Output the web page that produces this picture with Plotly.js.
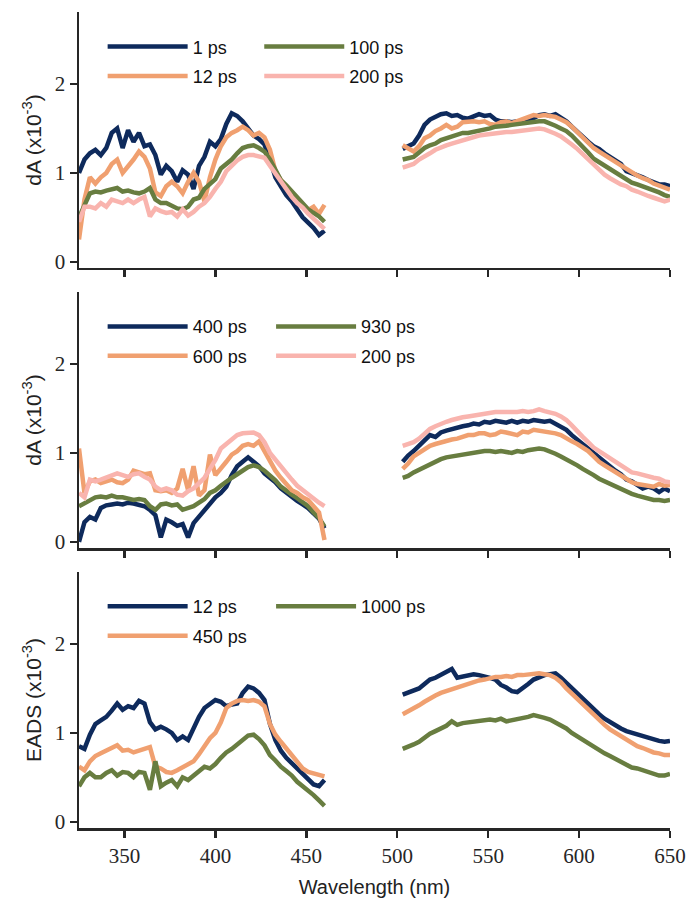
<!DOCTYPE html>
<html>
<head>
<meta charset="utf-8">
<script src="https://cdn.plot.ly/plotly-3.0.1.min.js"></script>
<style>html,body{margin:0;padding:0;background:#fff;}#chart{width:691px;height:908px;}</style>
</head>
<body>
<div id="chart"></div>
<script>
// Wavelength grids (nm)
const wlLeft = [325,328,331,334,337,340,343,346,349,352,355,358,361,364,367,370,373,376,379,382,385,388,391,394,397,400,403,406,409,412,415,418,421,424,427,430,433,436,439,442,445,448,451,454,457,460];
const wlRight = [503,506,509,512,515,518,521,524,527,530,533,536,539,542,545,548,551,554,557,560,563,566,569,572,575,578,581,584,587,590,593,596,599,602,605,608,611,614,617,620,623,626,629,632,635,638,641,644,647,650];

// Panel 1 (dA x10^-3)
const p1_1ps_L = [1.0,1.15,1.22,1.26,1.2,1.28,1.45,1.5,1.28,1.48,1.35,1.45,1.3,1.32,1.2,0.98,1.08,1.02,0.9,1.03,0.98,0.82,1.08,1.18,1.35,1.3,1.38,1.55,1.67,1.64,1.58,1.5,1.42,1.38,1.32,1.15,0.95,0.85,0.75,0.68,0.58,0.5,0.44,0.38,0.3,0.35];
const p1_1ps_R = [1.27,1.3,1.33,1.42,1.54,1.6,1.63,1.66,1.67,1.64,1.65,1.62,1.61,1.64,1.66,1.64,1.65,1.6,1.58,1.58,1.57,1.58,1.57,1.58,1.62,1.65,1.66,1.64,1.66,1.62,1.58,1.52,1.46,1.4,1.35,1.3,1.27,1.22,1.18,1.14,1.1,1.02,1.0,0.98,0.95,0.92,0.9,0.87,0.87,0.85];
const p1_12ps_L = [0.25,0.7,0.95,0.88,0.95,1.0,1.1,1.15,1.0,1.07,1.15,1.24,1.18,1.05,0.78,0.74,0.85,0.9,0.85,0.77,0.9,1.0,0.9,0.68,0.95,1.15,1.3,1.4,1.45,1.48,1.52,1.48,1.42,1.45,1.4,1.26,1.02,0.92,0.84,0.76,0.7,0.64,0.58,0.62,0.54,0.64];
const p1_12ps_R = [1.31,1.27,1.24,1.3,1.39,1.42,1.47,1.5,1.54,1.5,1.52,1.57,1.58,1.58,1.57,1.58,1.55,1.54,1.57,1.58,1.56,1.58,1.61,1.62,1.65,1.64,1.65,1.64,1.63,1.6,1.57,1.52,1.46,1.4,1.34,1.28,1.24,1.2,1.16,1.12,1.08,1.04,1.0,0.97,0.94,0.92,0.88,0.86,0.83,0.81];
const p1_100ps_L = [0.5,0.65,0.77,0.79,0.78,0.8,0.82,0.83,0.79,0.8,0.78,0.77,0.79,0.83,0.7,0.66,0.66,0.63,0.6,0.59,0.62,0.7,0.72,0.82,0.88,0.93,1.05,1.1,1.15,1.22,1.28,1.3,1.31,1.28,1.24,1.15,1.03,0.92,0.86,0.79,0.73,0.66,0.59,0.55,0.51,0.45];
const p1_100ps_R = [1.15,1.17,1.18,1.23,1.28,1.31,1.33,1.37,1.39,1.42,1.43,1.45,1.45,1.46,1.47,1.48,1.5,1.52,1.52,1.53,1.54,1.55,1.56,1.57,1.58,1.58,1.58,1.56,1.53,1.5,1.47,1.42,1.36,1.3,1.23,1.16,1.12,1.09,1.05,1.01,0.97,0.93,0.89,0.87,0.85,0.83,0.81,0.78,0.75,0.73];
const p1_200ps_L = [0.45,0.62,0.62,0.6,0.66,0.62,0.7,0.68,0.66,0.7,0.66,0.7,0.73,0.51,0.6,0.57,0.55,0.56,0.51,0.59,0.52,0.56,0.62,0.66,0.73,0.82,0.9,1.02,1.08,1.14,1.18,1.2,1.2,1.19,1.17,1.08,0.99,0.9,0.82,0.73,0.66,0.61,0.54,0.48,0.42,0.37];
const p1_200ps_R = [1.06,1.08,1.1,1.15,1.18,1.22,1.26,1.29,1.31,1.33,1.35,1.37,1.39,1.41,1.42,1.43,1.44,1.45,1.45,1.46,1.46,1.47,1.48,1.48,1.5,1.5,1.49,1.47,1.44,1.41,1.37,1.32,1.27,1.21,1.15,1.09,1.03,0.98,0.94,0.9,0.87,0.85,0.81,0.79,0.76,0.74,0.72,0.7,0.68,0.7];

// Panel 2 (dA x10^-3)
const p2_400ps_L = [0.0,0.22,0.28,0.25,0.38,0.41,0.42,0.43,0.42,0.44,0.43,0.42,0.4,0.36,0.3,0.05,0.25,0.22,0.18,0.2,0.05,0.21,0.28,0.36,0.43,0.5,0.55,0.62,0.75,0.85,0.9,0.95,0.9,0.85,0.77,0.72,0.67,0.6,0.55,0.5,0.46,0.42,0.38,0.32,0.26,0.15];
const p2_400ps_R = [0.9,0.97,1.02,1.08,1.14,1.2,1.18,1.23,1.25,1.27,1.28,1.3,1.31,1.33,1.32,1.35,1.34,1.36,1.35,1.34,1.36,1.34,1.36,1.35,1.37,1.36,1.35,1.36,1.33,1.3,1.26,1.2,1.15,1.1,1.04,1.0,0.95,0.9,0.85,0.8,0.76,0.7,0.68,0.64,0.6,0.62,0.6,0.56,0.6,0.57];
const p2_600ps_L = [1.05,0.55,0.68,0.7,0.66,0.68,0.7,0.67,0.66,0.7,0.8,0.78,0.76,0.77,0.58,0.57,0.58,0.55,0.6,0.82,0.58,0.85,0.52,0.58,0.98,0.75,0.82,0.9,0.98,1.02,1.08,1.1,1.08,1.13,1.02,0.9,0.8,0.72,0.64,0.58,0.55,0.5,0.47,0.4,0.33,0.02];
const p2_600ps_R = [0.82,0.88,0.96,1.0,1.05,1.08,1.1,1.12,1.13,1.15,1.16,1.18,1.2,1.2,1.22,1.22,1.2,1.21,1.24,1.23,1.22,1.2,1.24,1.23,1.26,1.25,1.24,1.24,1.22,1.2,1.16,1.13,1.1,1.06,1.02,0.96,0.9,0.86,0.82,0.78,0.74,0.7,0.67,0.65,0.64,0.64,0.62,0.65,0.63,0.64];
const p2_930ps_L = [0.4,0.43,0.46,0.5,0.51,0.5,0.52,0.5,0.5,0.49,0.47,0.48,0.47,0.4,0.36,0.42,0.43,0.41,0.42,0.36,0.38,0.4,0.44,0.48,0.55,0.58,0.63,0.68,0.72,0.76,0.8,0.84,0.86,0.84,0.8,0.75,0.69,0.62,0.57,0.53,0.49,0.44,0.4,0.33,0.27,0.17];
const p2_930ps_R = [0.72,0.74,0.78,0.81,0.85,0.87,0.9,0.93,0.95,0.96,0.98,0.99,1.0,1.0,1.01,1.02,1.02,1.01,1.02,1.01,1.0,1.02,1.01,1.03,1.04,1.05,1.04,1.02,0.99,0.96,0.93,0.89,0.86,0.82,0.79,0.75,0.71,0.68,0.65,0.62,0.59,0.56,0.54,0.52,0.5,0.48,0.47,0.47,0.46,0.47];
const p2_200ps_L = [0.55,0.5,0.7,0.68,0.7,0.72,0.74,0.77,0.75,0.73,0.76,0.77,0.73,0.7,0.62,0.58,0.6,0.58,0.53,0.52,0.57,0.6,0.66,0.72,0.82,0.92,1.05,1.1,1.15,1.2,1.22,1.22,1.23,1.2,1.12,1.0,0.92,0.85,0.77,0.7,0.63,0.58,0.53,0.49,0.44,0.4];
const p2_200ps_R = [1.08,1.1,1.12,1.16,1.22,1.27,1.3,1.33,1.35,1.37,1.39,1.4,1.41,1.42,1.44,1.45,1.45,1.46,1.46,1.46,1.45,1.46,1.47,1.46,1.47,1.49,1.47,1.46,1.44,1.41,1.37,1.31,1.24,1.18,1.12,1.06,1.02,0.98,0.94,0.89,0.85,0.81,0.78,0.77,0.75,0.74,0.72,0.71,0.68,0.67];

// Panel 3 (EADS x10^-3)
const p3_12ps_L = [0.85,0.82,0.98,1.1,1.14,1.18,1.25,1.33,1.26,1.3,1.28,1.36,1.33,1.12,1.04,1.07,1.04,1.0,0.92,0.96,0.92,1.05,1.18,1.28,1.33,1.37,1.35,1.3,1.32,1.33,1.45,1.52,1.5,1.45,1.37,1.1,0.92,0.8,0.72,0.66,0.59,0.53,0.47,0.42,0.4,0.47];
const p3_12ps_R = [1.43,1.45,1.47,1.5,1.55,1.6,1.62,1.65,1.68,1.72,1.62,1.63,1.64,1.66,1.65,1.64,1.62,1.6,1.54,1.51,1.47,1.46,1.5,1.55,1.6,1.63,1.65,1.66,1.67,1.62,1.56,1.5,1.44,1.38,1.32,1.26,1.21,1.16,1.12,1.08,1.05,1.02,1.0,0.98,0.96,0.95,0.93,0.91,0.9,0.91];
const p3_450ps_L = [0.62,0.58,0.68,0.74,0.77,0.8,0.83,0.86,0.8,0.81,0.78,0.8,0.82,0.84,0.62,0.6,0.56,0.55,0.58,0.61,0.64,0.68,0.76,0.86,0.94,1.0,1.12,1.28,1.33,1.36,1.37,1.36,1.37,1.35,1.3,1.1,0.98,0.9,0.82,0.74,0.67,0.6,0.56,0.54,0.52,0.51];
const p3_450ps_R = [1.21,1.24,1.28,1.31,1.35,1.39,1.42,1.45,1.47,1.5,1.52,1.54,1.56,1.58,1.59,1.6,1.62,1.63,1.63,1.64,1.63,1.65,1.65,1.66,1.67,1.67,1.66,1.65,1.62,1.57,1.5,1.44,1.38,1.32,1.26,1.2,1.14,1.09,1.04,1.0,0.96,0.92,0.88,0.85,0.83,0.8,0.78,0.77,0.75,0.75];
const p3_1000ps_L = [0.4,0.5,0.55,0.5,0.5,0.55,0.58,0.52,0.56,0.55,0.5,0.56,0.55,0.36,0.68,0.4,0.44,0.47,0.4,0.5,0.47,0.52,0.57,0.62,0.6,0.65,0.72,0.78,0.82,0.87,0.93,0.97,0.98,0.93,0.86,0.75,0.69,0.62,0.57,0.52,0.45,0.4,0.36,0.3,0.24,0.18];
const p3_1000ps_R = [0.82,0.84,0.87,0.9,0.95,0.99,1.02,1.05,1.08,1.13,1.09,1.11,1.12,1.13,1.14,1.15,1.15,1.14,1.16,1.13,1.14,1.15,1.16,1.18,1.2,1.19,1.17,1.15,1.12,1.09,1.05,1.0,0.96,0.92,0.88,0.84,0.8,0.77,0.74,0.71,0.68,0.64,0.61,0.6,0.58,0.56,0.54,0.52,0.52,0.54];

const xTicks = [350,400,450,500,550,600,650];
const yTicks = [0,1,2];

const C_NAVY = 'rgb(14,42,92)';
const C_ORANGE = 'rgb(240,160,112)';
const C_GREEN = 'rgb(104,125,64)';
const C_PINK = 'rgb(249,180,174)';

// Join left and right segments with a gap
const wl = wlLeft.concat([480], wlRight);
function join(L, R){ return L.concat([null], R); }

let gid = 0;
function tr(name, L, R, color, xa, ya, leg, width){
  gid += 1;
  return {x: wl, y: join(L,R), type:'scatter', mode:'lines', name: name,
    line:{color: color, width: width || 4.5}, xaxis: xa, yaxis: ya, legend: leg,
    legendgroup: 'g' + gid, connectgaps:false, hoverinfo:'skip'};
}

const data = [
  tr('1 ps', p1_1ps_L, p1_1ps_R, C_NAVY, 'x', 'y', 'legend'),
  tr('12 ps', p1_12ps_L, p1_12ps_R, C_ORANGE, 'x', 'y', 'legend'),
  tr('100 ps', p1_100ps_L, p1_100ps_R, C_GREEN, 'x', 'y', 'legend2'),
  tr('200 ps', p1_200ps_L, p1_200ps_R, C_PINK, 'x', 'y', 'legend2'),

  tr('400 ps', p2_400ps_L, p2_400ps_R, C_NAVY, 'x2', 'y2', 'legend3'),
  tr('930 ps', p2_930ps_L, p2_930ps_R, C_GREEN, 'x2', 'y2', 'legend4'),
  tr('600 ps', p2_600ps_L, p2_600ps_R, C_ORANGE, 'x2', 'y2', 'legend3'),
  tr('200 ps', p2_200ps_L, p2_200ps_R, C_PINK, 'x2', 'y2', 'legend4'),

  tr('12 ps', p3_12ps_L, p3_12ps_R, C_NAVY, 'x3', 'y3', 'legend5'),
  tr('450 ps', p3_450ps_L, p3_450ps_R, C_ORANGE, 'x3', 'y3', 'legend5'),
  tr('1000 ps', p3_1000ps_L, p3_1000ps_R, C_GREEN, 'x3', 'y3', 'legend6')
];

const AX = '#262626';
const SERIF = '"Liberation Serif", "Times New Roman", serif';
const sans = 'Liberation Sans, Arial, sans-serif';

function xa(anchor, labels){
  const o = {anchor: anchor, domain:[0,1], range:[325,650], tickvals:xTicks, ticktext:xTicks.map(String),
    showticklabels: labels, ticks:'outside', ticklen:7, tickwidth:2.5, tickcolor:AX,
    showline:true, linecolor:AX, linewidth:2.5, showgrid:false, zeroline:false,
    tickfont: {family: SERIF, size:21, color:'#262626'}, fixedrange:true};
  if(labels){ o.title = {text:'Wavelength (nm)', font:{family:sans, size:20, color:'#222'}, standoff:14}; }
  return o;
}
function ya(anchor, dom, title){
  return {anchor: anchor, domain: dom, range:[-0.07,2.81], tickvals:yTicks, ticktext:yTicks.map(String),
    ticks:'outside', ticklen:7, tickwidth:2.5, tickcolor:AX,
    showline:true, linecolor:AX, linewidth:2.5, showgrid:false, zeroline:false,
    tickfont: {family: SERIF, size:21, color:'#262626'}, fixedrange:true,
    title:{text:title, font:{family:sans, size:21, color:'#222'}, standoff:8}};
}
function leg(x, y){
  return {x:x, y:y, xanchor:'left', yanchor:'top', orientation:'v', bgcolor:'rgba(0,0,0,0)',
    borderwidth:0, itemwidth:80, font:{family:sans, size:18, color:'#111'}, tracegroupgap:3,
    itemclick:false, itemdoubleclick:false};
}

const layout = {
  width:691, height:908,
  margin:{l:79, r:21, t:12, b:80, pad:0},
  paper_bgcolor:'#fff', plot_bgcolor:'#fff',
  showlegend:true,
  xaxis: xa('y', false),
  xaxis2: xa('y2', false),
  xaxis3: xa('y3', true),
  yaxis: ya('x', [0.6863,1], 'dA (x10<sup>-3</sup>)'),
  yaxis2: ya('x2', [0.3431,0.6569], 'dA (x10<sup>-3</sup>)'),
  yaxis3: ya('x3', [0,0.3137], 'EADS (x10<sup>-3</sup>)'),
  legend: leg(0.040, 0.980),
  legend2: leg(0.305, 0.980),
  legend3: leg(0.040, 0.637),
  legend4: leg(0.325, 0.637),
  legend5: leg(0.040, 0.294),
  legend6: leg(0.325, 0.294)
};

Plotly.newPlot('chart', data, layout, {displayModeBar:false, staticPlot:true});
</script>
</body>
</html>
